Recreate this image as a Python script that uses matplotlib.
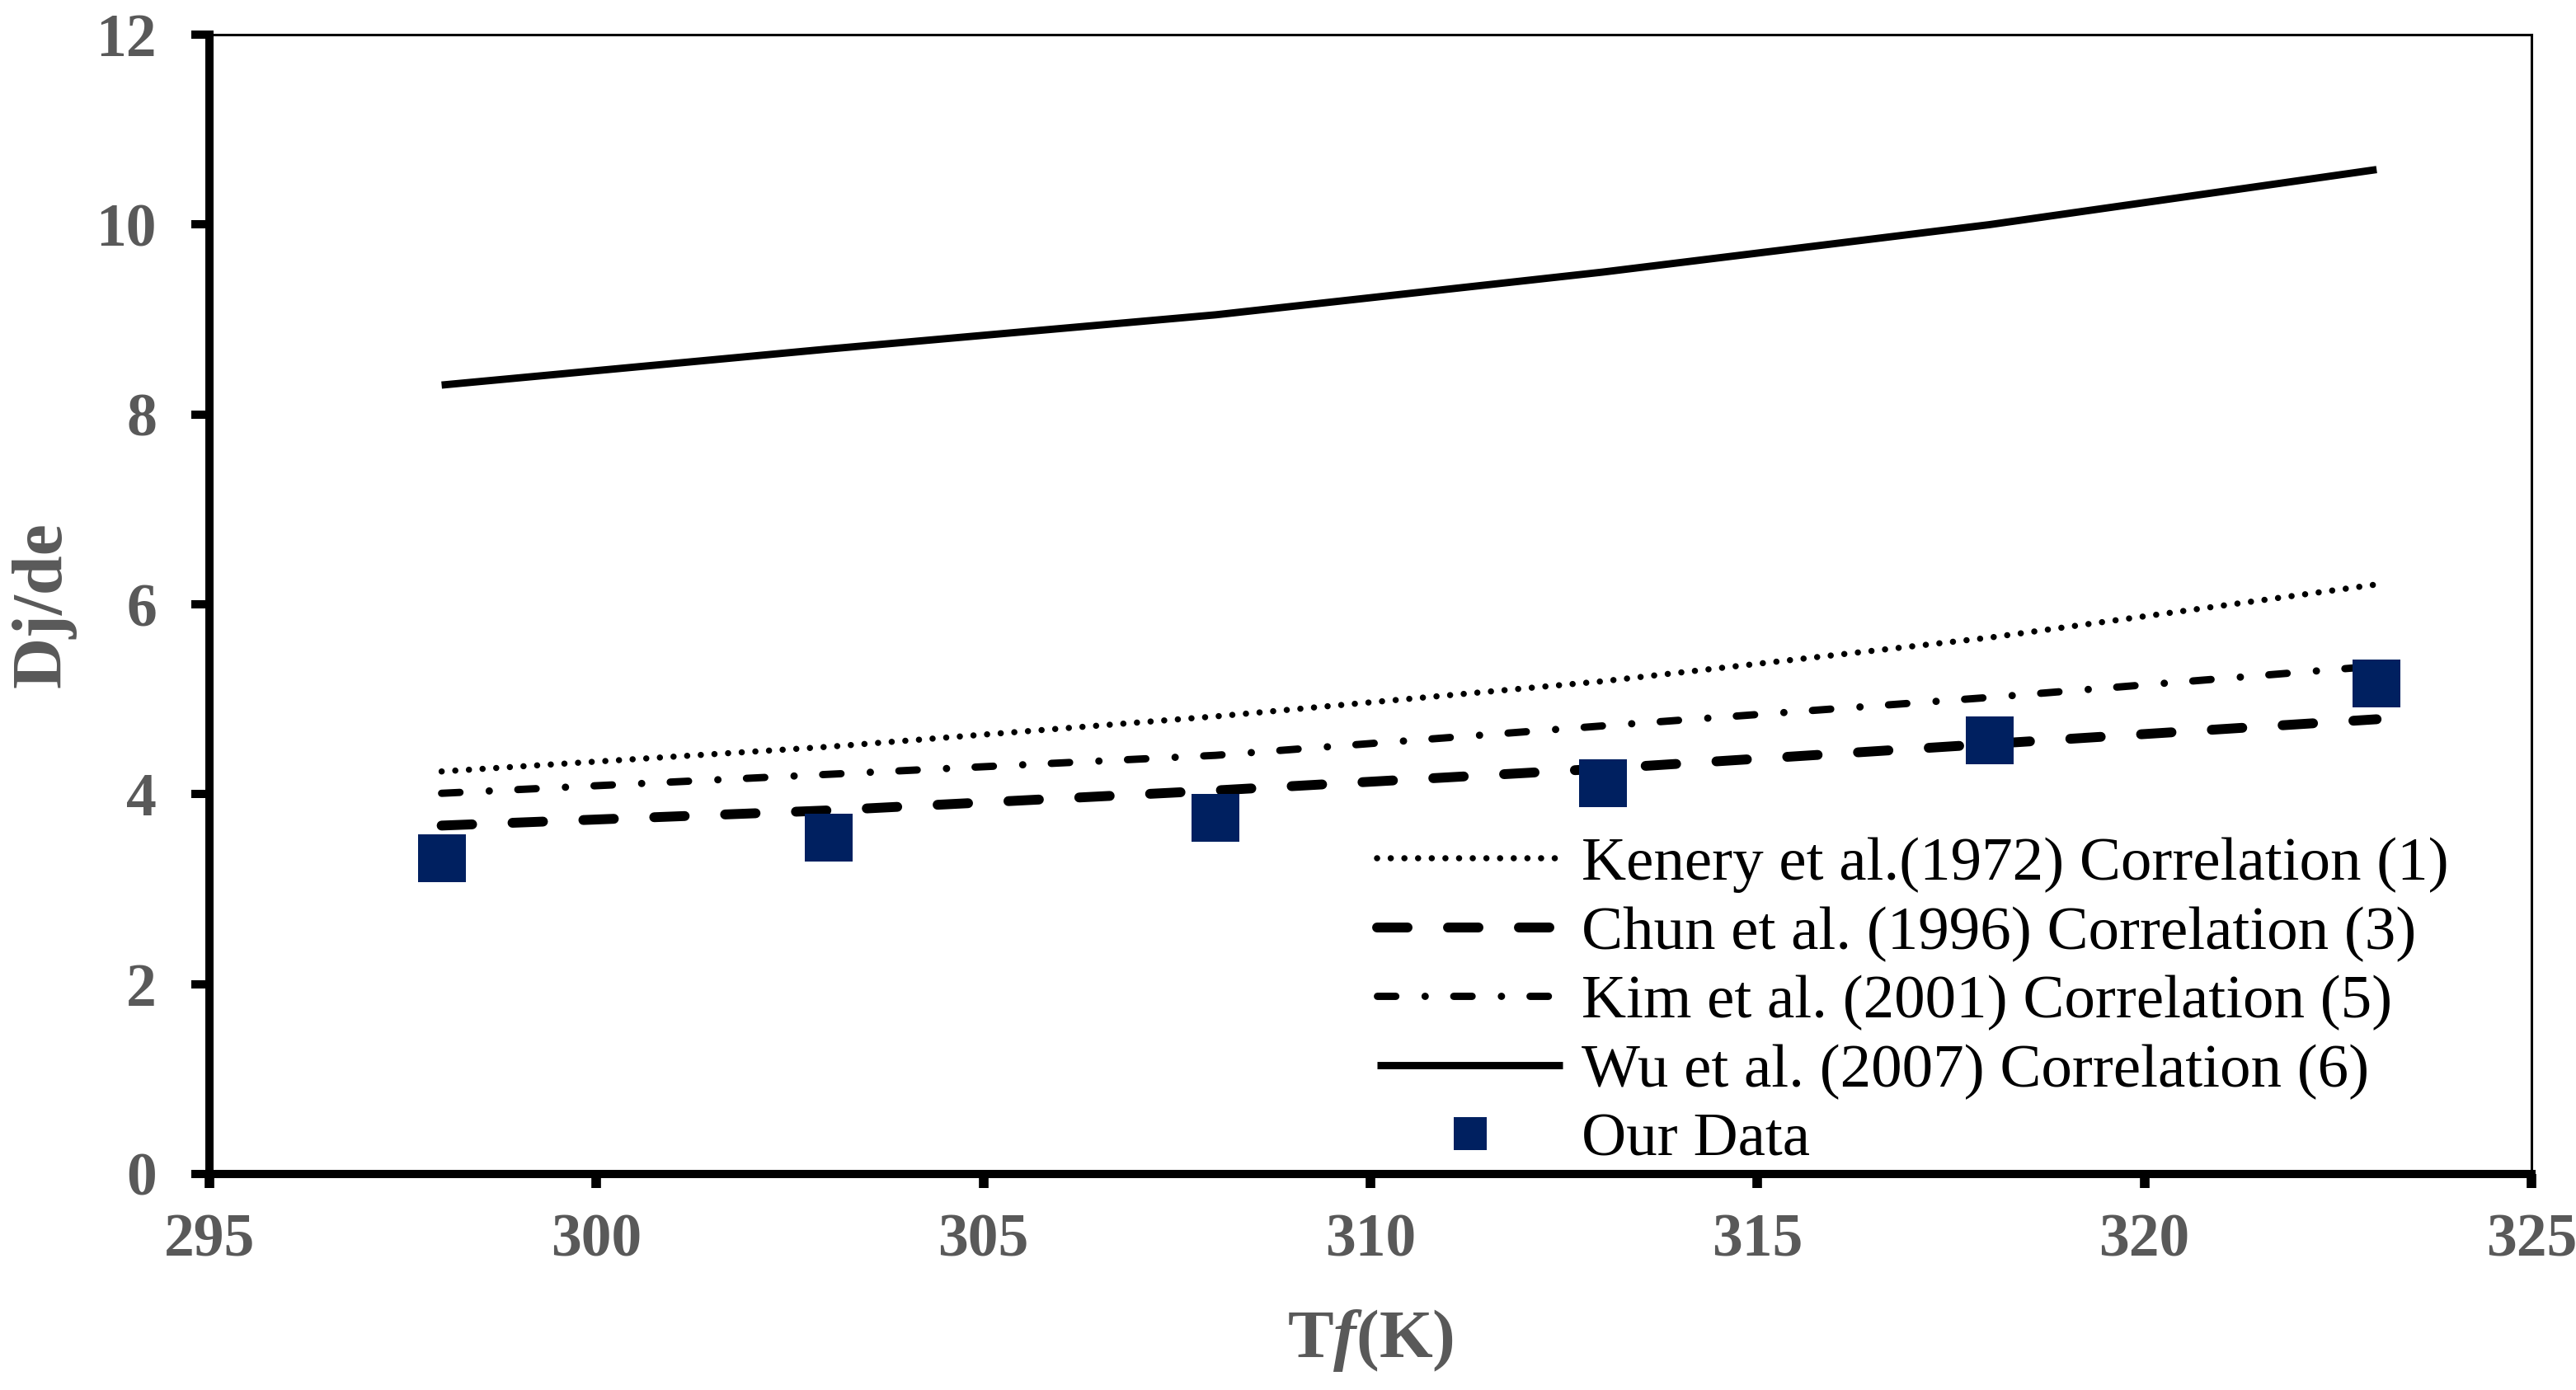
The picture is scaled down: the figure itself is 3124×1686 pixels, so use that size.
import matplotlib
matplotlib.use('Agg')
import matplotlib.pyplot as plt

plt.rcParams['font.family'] = ['Liberation Serif', 'DejaVu Serif']
plt.rcParams['mathtext.fontset'] = 'custom'
plt.rcParams['mathtext.it'] = 'Liberation Serif:italic:bold'
plt.rcParams['mathtext.rm'] = 'Liberation Serif:bold'

# data
temps = [298, 303, 308, 313, 318, 323]
kenery = [4.24, 4.50, 4.82, 5.19, 5.65, 6.21]
chun = [3.67, 3.83, 4.04, 4.27, 4.53, 4.79]
kim = [4.01, 4.21, 4.41, 4.72, 5.02, 5.35]
wu = [8.31, 8.69, 9.05, 9.50, 10.00, 10.58]
our_data = [3.33, 3.54, 3.75, 4.12, 4.57, 5.17]

labels = ['Kenery et al.(1972) Correlation (1)',
          'Chun et al. (1996) Correlation (3)',
          'Kim et al. (2001) Correlation (5)',
          'Wu et al. (2007) Correlation (6)',
          'Our Data']

grey = '#595959'
navy = '#002060'

fig = plt.figure(figsize=(15.62, 8.43), dpi=200)
ax = fig.add_axes([0.0813, 0.1554, 0.9014, 0.8196])

ax.plot(temps, kenery, color='black', lw=2.7, dashes=(0.01, 2.2),
        dash_capstyle='round', label=labels[0])
ax.plot(temps, chun, color='black', lw=4.3, dashes=(3.1, 4.1),
        dash_capstyle='round', label=labels[1])
ax.plot(temps, kim, color='black', lw=3.2, dashes=(2.5, 4.0, 0.01, 3.9),
        dash_capstyle='round', label=labels[2])
ax.plot(temps, wu, color='black', lw=3.2, solid_capstyle='butt', label=labels[3])
ax.plot(temps, our_data, ls='none', marker='s', ms=21, color=navy,
        markeredgewidth=0, label=labels[4])

ax.set_xlim(295, 325)
ax.set_ylim(0, 12)
ax.set_xticks(range(295, 326, 5))
ax.set_yticks(range(0, 13, 2))

for side in ['left', 'bottom']:
    ax.spines[side].set_linewidth(3.6)
for side in ['top', 'right']:
    ax.spines[side].set_linewidth(1.1)

ax.tick_params(axis='y', direction='out', length=8, width=3.6, pad=15,
               labelsize=26.5, labelcolor=grey)
ax.tick_params(axis='x', direction='out', length=6, width=4.2, pad=11,
               labelsize=26.5, labelcolor=grey)
for t in ax.get_xticklabels() + ax.get_yticklabels():
    t.set_fontweight('bold')

ax.set_xlabel(r'T$\mathit{f}$(K)', fontsize=30, fontweight='bold', color=grey)
ax.set_ylabel('Dj/de', fontsize=31, fontweight='bold', color=grey)
ax.xaxis.set_label_coords(0.5, -0.117)
ax.yaxis.set_label_coords(-0.0575, 0.5)

ax.legend(loc='upper left', bbox_to_anchor=(0.503, 0.296), frameon=False,
          fontsize=27, handlelength=3.0, handletextpad=0.3, labelspacing=0.2,
          borderpad=0, borderaxespad=0, markerscale=0.7)

fig.savefig('out.png', dpi=200)
